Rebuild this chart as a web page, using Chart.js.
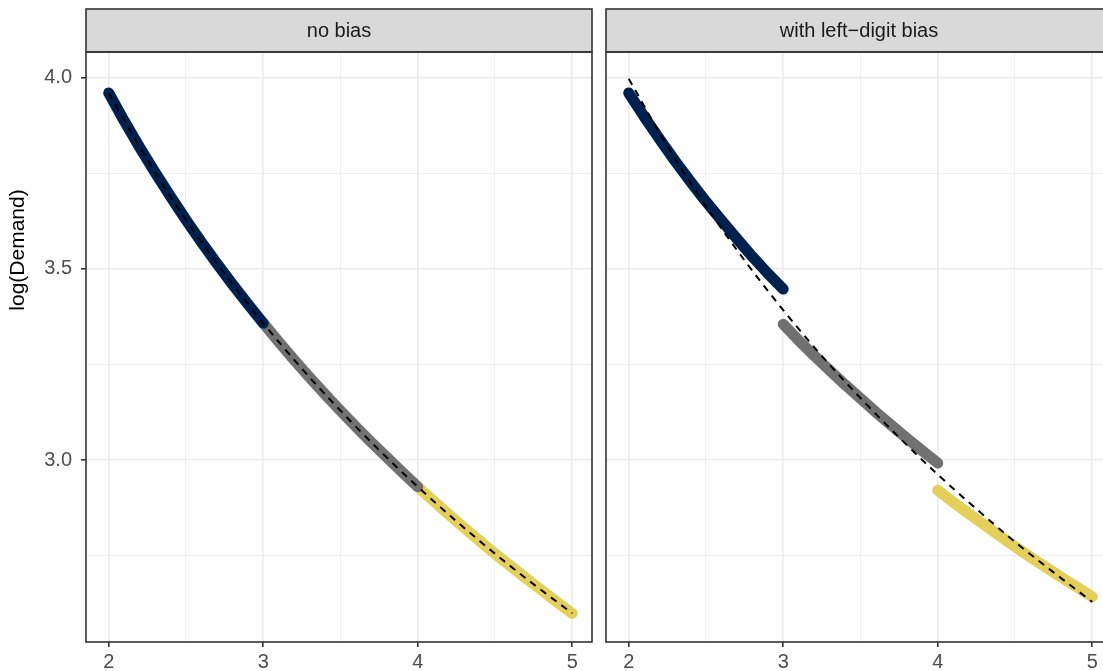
<!DOCTYPE html>
<html lang="en">
<head>
<meta charset="UTF-8">
<title>log(Demand) - left-digit bias</title>
<script src="https://cdn.jsdelivr.net/npm/chart.js"></script>
<style>
  html, body { margin: 0; padding: 0; background: #ffffff; overflow: hidden; width: 1103px; height: 671px; }
  .panel { position: absolute; top: 0; }
  #left { left: 0; }
  #right { left: 599px; }
</style>
</head>
<body>
<div class="panel" id="left"><canvas id="chartLeft" width="599" height="671"></canvas></div>
<div class="panel" id="right"><canvas id="chartRight" width="520" height="671"></canvas></div>

<script>
// facet labels and axis ticks
const panelTitles = ["no bias", "with left\u2212digit bias"];
const yTitle = "log(Demand)";
const xMajor = [2, 3, 4, 5];
const xMinor = [2.5, 3.5, 4.5];
const yMajor = [3.0, 3.5, 4.0];
const yMinor = [2.75, 3.25, 3.75];

// price grid for each left digit
const priceLow  = [2.0, 2.1, 2.2, 2.3, 2.4, 2.5, 2.6, 2.7, 2.8, 2.9, 3.0];
const priceMid  = [3.0, 3.1, 3.2, 3.3, 3.4, 3.5, 3.6, 3.7, 3.8, 3.9, 4.0];
const priceHigh = [4.0, 4.1, 4.2, 4.3, 4.4, 4.5, 4.6, 4.7, 4.8, 4.9, 5.0];

// log(Demand), no bias
const noBiasLow  = [3.960, 3.887, 3.818, 3.752, 3.689, 3.628, 3.570, 3.514, 3.460, 3.408, 3.358];
const noBiasMid  = [3.358, 3.309, 3.262, 3.216, 3.172, 3.129, 3.087, 3.046, 3.007, 2.968, 2.930];
const noBiasHigh = [2.930, 2.894, 2.858, 2.823, 2.789, 2.755, 2.723, 2.691, 2.660, 2.629, 2.599];

// log(Demand), with left-digit bias
const biasLow  = [3.960, 3.898, 3.839, 3.782, 3.728, 3.676, 3.627, 3.579, 3.532, 3.488, 3.447];
const biasMid  = [3.355, 3.313, 3.273, 3.235, 3.197, 3.161, 3.125, 3.091, 3.057, 3.024, 2.992];
const biasHigh = [2.921, 2.890, 2.860, 2.831, 2.802, 2.774, 2.746, 2.720, 2.693, 2.668, 2.642];

// fitted curves (dashed)
const priceFit  = [2.0, 2.25, 2.5, 2.75, 3.0, 3.25, 3.5, 3.75, 4.0, 4.25, 4.5, 4.75, 5.0];
const noBiasFit = [3.960, 3.785, 3.628, 3.487, 3.358, 3.239, 3.129, 3.026, 2.930, 2.840, 2.755, 2.675, 2.599];
const biasFit   = [3.997, 3.821, 3.664, 3.522, 3.392, 3.272, 3.162, 3.059, 2.962, 2.872, 2.786, 2.706, 2.629];

const colLow = "#00204D", colMid = "#717172", colHigh = "#E4CF5A";
const FONT = "'Liberation Sans', Arial, sans-serif";

function pts(xs, ys) {
    return xs.map((x, i) => ({ x: x, y: ys[i] }));
}

function isIn(list, v) {
    return list.some(t => Math.abs(t - v) < 1e-6);
}

// strip on top + frame around the panel (+ y title on the first panel)
const panelFrame = {
    id: "panelFrame",
    afterDraw(chart, args, opts) {
        const ctx = chart.ctx;
        const a = chart.chartArea;
        ctx.save();
        ctx.fillStyle = "#D9D9D9";
        ctx.fillRect(a.left, 9, a.right - a.left, a.top - 9);
        ctx.strokeStyle = "#333333";
        ctx.lineWidth = 1.6;
        ctx.strokeRect(a.left, 9, a.right - a.left, a.top - 9);
        ctx.strokeRect(a.left, a.top, a.right - a.left, a.bottom - a.top);
        ctx.fillStyle = "#1A1A1A";
        ctx.font = "20px " + FONT;
        ctx.textAlign = "center";
        ctx.textBaseline = "middle";
        ctx.fillText(opts.label, (a.left + a.right) / 2, (9 + a.top) / 2 + 1);
        if (opts.yTitle) {
            ctx.fillStyle = "#000000";
            ctx.font = "21px " + FONT;
            ctx.translate(18, 250);
            ctx.rotate(-Math.PI / 2);
            ctx.fillText(opts.yTitle, 0, 0);
        }
        ctx.restore();
    }
};

function makeChart(id, idx, lows, mids, highs, fit) {
    const first = idx === 0;
    const seg = (data, color) => ({
        data: data, borderColor: color, backgroundColor: color,
        borderWidth: 11, borderCapStyle: "round", borderJoinStyle: "round",
        pointRadius: 0, order: 1, tension: 0
    });
    return new Chart(document.getElementById(id), {
        type: "line",
        data: {
            datasets: [
                {
                    data: pts(priceFit, fit), borderColor: "#000000", borderWidth: 2,
                    borderDash: [7, 6], pointRadius: 0, order: 0,
                    cubicInterpolationMode: "monotone"
                },
                seg(pts(priceLow, lows), colLow),
                seg(pts(priceMid, mids), colMid),
                seg(pts(priceHigh, highs), colHigh)
            ]
        },
        options: {
            responsive: false,
            animation: false,
            layout: { padding: { top: 52, right: 7, left: first ? 0 : 7, bottom: 0 } },
            plugins: {
                legend: { display: false },
                tooltip: { enabled: false },
                panelFrame: { label: panelTitles[idx], yTitle: first ? yTitle : null }
            },
            scales: {
                x: {
                    type: "linear", min: 1.853, max: 5.128,
                    afterBuildTicks: (axis) => {
                        axis.ticks = xMajor.concat(xMinor).sort((p, q) => p - q).map(v => ({ value: v }));
                    },
                    afterFit: (axis) => { axis.height = 29; },
                    border: { display: false },
                    grid: {
                        color: "#EBEBEB",
                        lineWidth: (c) => isIn(xMajor, c.tick.value) ? 1.6 : 0.8,
                        tickColor: (c) => isIn(xMajor, c.tick.value) ? "#333333" : "rgba(0,0,0,0)",
                        tickWidth: 1.6,
                        tickLength: 5
                    },
                    ticks: {
                        autoSkip: false, maxRotation: 0, padding: 3,
                        color: "#4D4D4D", font: { family: FONT, size: 20 },
                        callback: (v) => isIn(xMajor, v) ? String(Math.round(v)) : ""
                    }
                },
                y: {
                    type: "linear", min: 2.524, max: 4.067,
                    afterBuildTicks: (axis) => {
                        axis.ticks = yMajor.concat(yMinor).sort((p, q) => p - q).map(v => ({ value: v }));
                    },
                    afterFit: (axis) => { axis.width = first ? 86 : 0; },
                    border: { display: false },
                    grid: {
                        color: "#EBEBEB",
                        lineWidth: (c) => isIn(yMajor, c.tick.value) ? 1.6 : 0.8,
                        tickColor: (c) => isIn(yMajor, c.tick.value) ? "#333333" : "rgba(0,0,0,0)",
                        tickWidth: 1.6,
                        tickLength: 5,
                        drawTicks: first
                    },
                    ticks: {
                        display: first, autoSkip: false, padding: 9,
                        color: "#4D4D4D", font: { family: FONT, size: 20 },
                        callback: (v) => isIn(yMajor, v) ? v.toFixed(1) : ""
                    }
                }
            }
        },
        plugins: [panelFrame]
    });
}

makeChart("chartLeft", 0, noBiasLow, noBiasMid, noBiasHigh, noBiasFit);
makeChart("chartRight", 1, biasLow, biasMid, biasHigh, biasFit);
</script>
</body>
</html>
